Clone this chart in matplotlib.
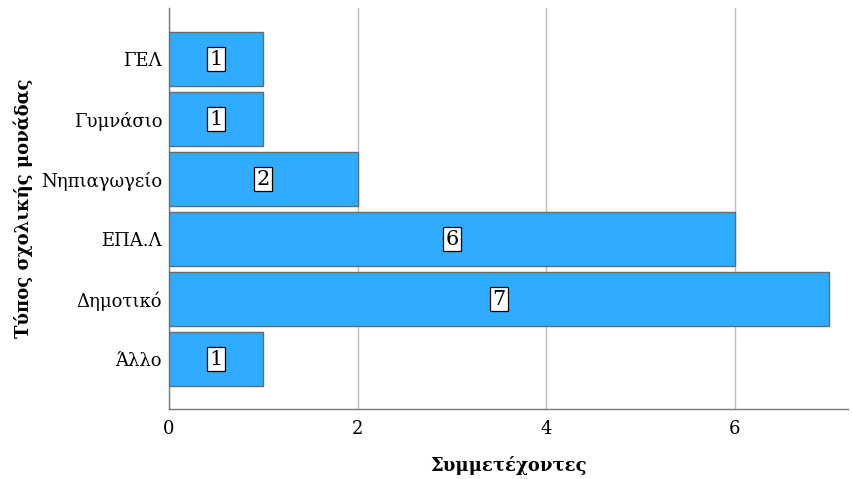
import matplotlib
matplotlib.use('Agg')
import matplotlib.pyplot as plt

# School type vs. number of participants
categories = ['ΓΕΛ', 'Γυμνάσιο', 'Νηπιαγωγείο', 'ΕΠΑ.Λ', 'Δημοτικό', 'Άλλο']
counts = [1, 1, 2, 6, 7, 1]
xticks = [0, 2, 4, 6]

plt.rcParams['font.family'] = ['DejaVu Serif']

fig = plt.figure(figsize=(8.52, 4.79), dpi=100)
ax = fig.add_axes([169 / 852, 70 / 479, 679 / 852, 401 / 479])

pos = list(range(len(categories)))
bars = ax.barh(pos, counts, height=0.9, color='#30acff', edgecolor='#6a6a6a', linewidth=1.0, zorder=3)

# value boxes in the middle of each bar
for p, c in zip(pos, counts):
    ax.text(c / 2, p, str(c), ha='center', va='center', fontsize=15, zorder=4,
            bbox=dict(boxstyle='square,pad=0.12', fc='white', ec='black', lw=0.9))

ax.set_ylim(len(categories) - 1 + 0.83, -0.85)
ax.set_xlim(0, 7.2)
ax.set_yticks(pos)
ax.set_yticklabels(categories, fontsize=13)
ax.set_xticks(xticks)
ax.set_xticklabels([str(t) for t in xticks], fontsize=13)
ax.tick_params(axis='both', length=0, pad=5)
ax.tick_params(axis='x', pad=8)

ax.grid(axis='x', color='#bdbdbd', linewidth=1.0, zorder=0)
for side in ['top', 'right']:
    ax.spines[side].set_visible(False)
for side in ['left', 'bottom']:
    ax.spines[side].set_color('#7a7a7a')
    ax.spines[side].set_linewidth(1.0)

ax.set_xlabel('Συμμετέχοντες', fontsize=13, fontweight='bold', labelpad=13)
ax.set_ylabel('Τύπος σχολικής μονάδας', fontsize=13, fontweight='bold', labelpad=6)

fig.savefig('out.png', dpi=100)
